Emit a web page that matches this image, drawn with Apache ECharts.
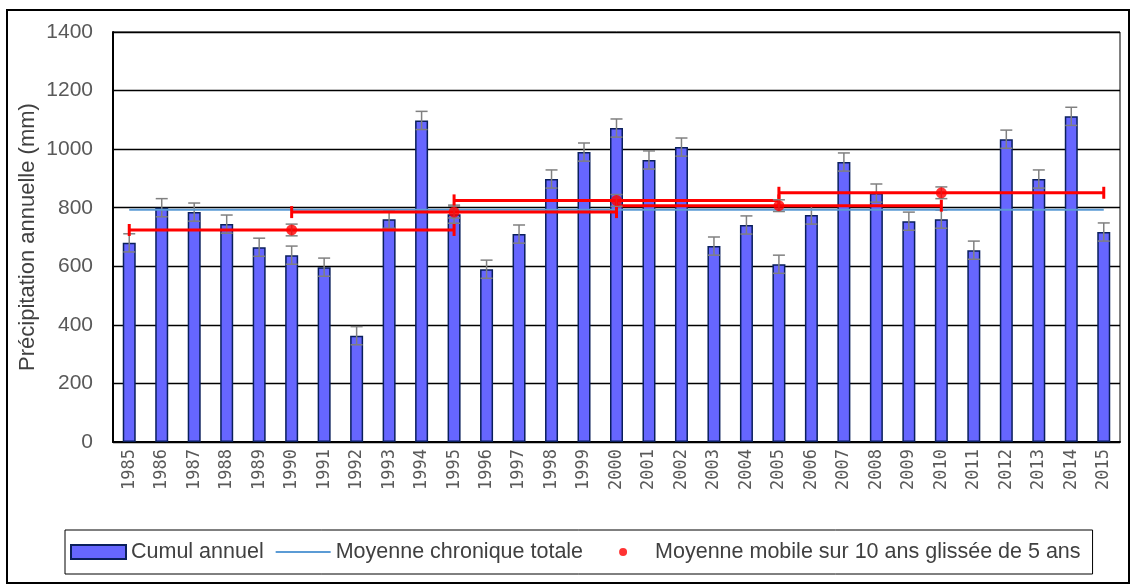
<!DOCTYPE html>
<html>
<head>
<meta charset="utf-8">
<script src="https://cdn.jsdelivr.net/npm/echarts@6/dist/echarts.min.js"></script>
<style>
  html, body { margin: 0; padding: 0; background: #fff; }
  #chart { width: 1131px; height: 585px; }
</style>
</head>
<body>
<div id="chart"></div>
<script>
const years = ['1985', '1986', '1987', '1988', '1989', '1990', '1991', '1992', '1993', '1994',
  '1995', '1996', '1997', '1998', '1999', '2000', '2001', '2002', '2003', '2004',
  '2005', '2006', '2007', '2008', '2009', '2010', '2011', '2012', '2013', '2014', '2015'];
const cumul = [680, 800, 785, 744, 665, 638, 597, 363, 761, 1098,
  778, 590, 710, 898, 990, 1072, 963, 1007, 669, 741,
  607, 775, 956, 850, 754, 761, 655, 1034, 898, 1112, 717];
const cumulErr = 31;
const moyenneTotale = 793;
const maYears = ['1990', '1995', '2000', '2005', '2010'];
const maValues = [724, 785, 825, 807, 851];
const maErr = 20;
const maHalfSpan = 5;

const chart = echarts.init(document.getElementById('chart'));

// vertical error bar with caps
function vErrorItem(color, width, capHalf) {
  return function (params, api) {
    const x = api.value(0), lo = api.value(1), hi = api.value(2);
    const top = api.coord([x, hi]);
    const bot = api.coord([x, lo]);
    const style = { stroke: color, lineWidth: width };
    return {
      type: 'group',
      children: [
        { type: 'line', shape: { x1: top[0], y1: top[1], x2: bot[0], y2: bot[1] }, style },
        { type: 'line', shape: { x1: top[0] - capHalf, y1: top[1], x2: top[0] + capHalf, y2: top[1] }, style },
        { type: 'line', shape: { x1: bot[0] - capHalf, y1: bot[1], x2: bot[0] + capHalf, y2: bot[1] }, style }
      ]
    };
  };
}

const barErrData = cumul.map((v, i) => [i, v - cumulErr, v + cumulErr]);
const maIdx = maYears.map(y => years.indexOf(y));
const maErrData = maValues.map((v, i) => [maIdx[i], v - maErr, v + maErr]);
const maSpanData = maValues.map((v, i) => [maIdx[i], v]);

chart.setOption({
  animation: false,
  textStyle: { fontFamily: 'Liberation Sans' },
  graphic: [{
    type: 'rect',
    shape: { x: 7, y: 10, width: 1122, height: 573 },
    style: { fill: 'none', stroke: '#000', lineWidth: 2 }
  }],
  grid: {
    left: 113, right: 11, top: 32, bottom: 143,
    show: true, borderColor: '#000', borderWidth: 1
  },
  legend: {
    left: 65, top: 530,
    padding: [11, 12, 11, 5],
    borderColor: '#000', borderWidth: 1,
    itemWidth: 55, itemHeight: 14, itemGap: 12,
    textStyle: { fontSize: 21.5, color: '#404040' },
    data: [
      { name: 'Cumul annuel', icon: 'rect' },
      { name: 'Moyenne chronique totale',
        icon: 'path://M0,0 M55,14 M0,6 L55,6 L55,8 L0,8 Z' },
      { name: 'Moyenne mobile sur 10 ans glissée de 5 ans',
        icon: 'path://M0,0 M55,14 M28,3 A4,4 0 1,1 28,11 A4,4 0 1,1 28,3 Z' }
    ]
  },
  xAxis: {
    type: 'category',
    data: years,
    axisLine: { lineStyle: { color: '#000', width: 2 } },
    axisTick: { show: false },
    axisLabel: { rotate: 90, fontSize: 17, color: '#595959', margin: 7, fontFamily: 'DejaVu Sans Mono' }
  },
  yAxis: {
    type: 'value',
    min: 0, max: 1400, interval: 200,
    name: 'Précipitation annuelle (mm)',
    nameLocation: 'middle',
    nameGap: 74,
    nameMoveOverlap: false,
    nameTextStyle: { fontSize: 22, color: '#404040' },
    axisLine: { show: true, lineStyle: { color: '#000', width: 2 } },
    axisTick: { show: false },
    axisLabel: { fontSize: 21, color: '#595959', margin: 20, formatter: v => String(v) },
    splitLine: { lineStyle: { color: '#000', width: 1.3 } }
  },
  series: [
    {
      name: 'Cumul annuel',
      type: 'bar',
      data: cumul,
      barWidth: 13,
      itemStyle: { color: '#6666FF', borderColor: '#0A1F5C', borderWidth: 1.5 },
      z: 2
    },
    {
      type: 'custom',
      renderItem: vErrorItem('#808080', 1.5, 6),
      data: barErrData,
      z: 3
    },
    {
      name: 'Moyenne chronique totale',
      type: 'line',
      data: years.map(() => moyenneTotale),
      symbol: 'none',
      lineStyle: { color: '#5B9BD5', width: 2 },
      itemStyle: { color: '#5B9BD5' },
      z: 4
    },
    {
      type: 'custom',
      renderItem: function (params, api) {
        const x = api.value(0), v = api.value(1);
        const a = api.coord([x - maHalfSpan, v]);
        const b = api.coord([x + maHalfSpan, v]);
        const style = { stroke: '#FF0000', lineWidth: 3 };
        return {
          type: 'group',
          children: [
            { type: 'line', shape: { x1: a[0], y1: a[1], x2: b[0], y2: b[1] }, style },
            { type: 'line', shape: { x1: a[0], y1: a[1] - 6, x2: a[0], y2: a[1] + 6 }, style },
            { type: 'line', shape: { x1: b[0], y1: b[1] - 6, x2: b[0], y2: b[1] + 6 }, style }
          ]
        };
      },
      data: maSpanData,
      z: 5
    },
    {
      type: 'custom',
      renderItem: vErrorItem('#808080', 1.5, 6),
      data: maErrData,
      z: 6
    },
    {
      name: 'Moyenne mobile sur 10 ans glissée de 5 ans',
      type: 'scatter',
      data: maSpanData,
      symbol: 'circle',
      symbolSize: 11,
      itemStyle: { color: '#FF0000' },
      z: 7
    }
  ]
});
</script>
</body>
</html>
